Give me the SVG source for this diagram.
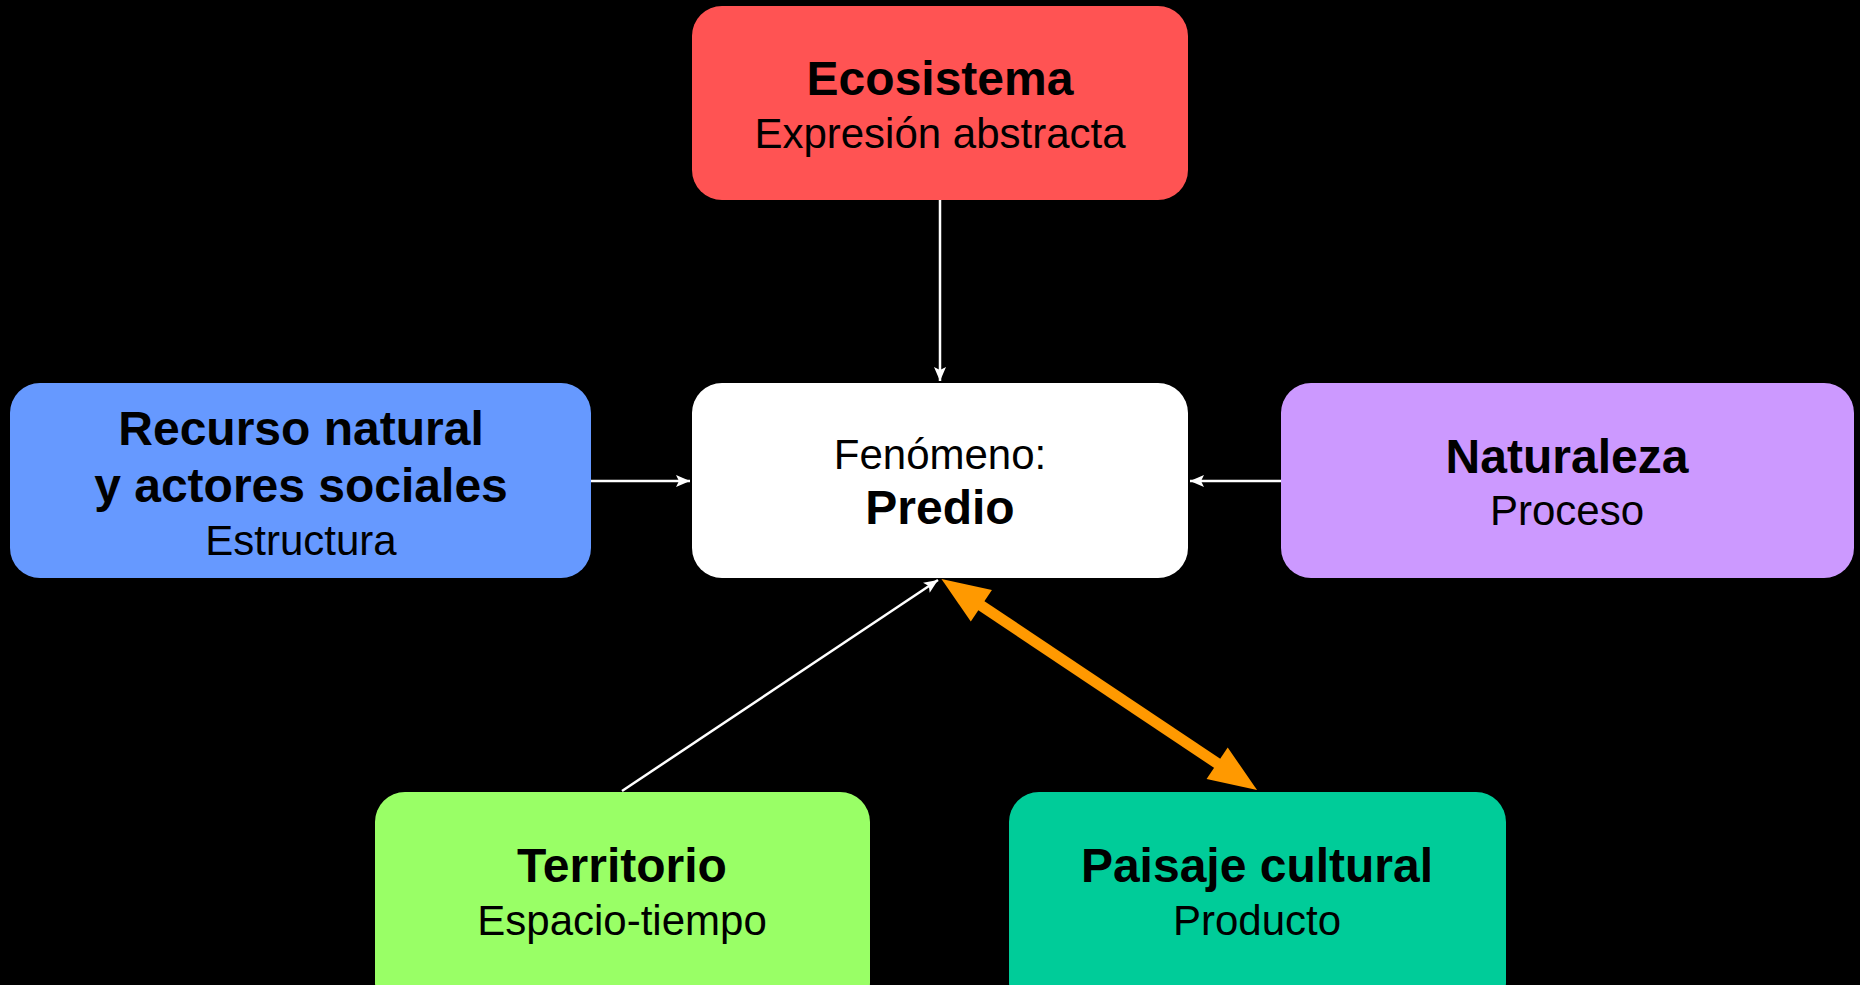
<svg xmlns="http://www.w3.org/2000/svg" width="1860" height="985" viewBox="0 0 1860 985">
<style>
.box{stroke:none}
.t{font-family:"Liberation Sans",Arial,sans-serif;fill:#000;text-anchor:middle}
.b{font-weight:bold;font-size:48px}
.n{font-size:42px}
.w{stroke:#fff;stroke-width:2.5;fill:none}
.o{stroke:#FF9900;stroke-width:11;fill:none}
</style>
<defs>
<marker id="wa" markerUnits="userSpaceOnUse" markerWidth="16" markerHeight="14" viewBox="0 -7 16 14" refX="14" refY="0" orient="auto" overflow="visible">
<path d="M0,-6 L14,0 L0,6 L3,0 z" fill="#fff"/>
</marker>
<marker id="oa" markerUnits="userSpaceOnUse" markerWidth="50" markerHeight="40" viewBox="0 -20 50 40" refX="18" refY="0" orient="auto-start-reverse" overflow="visible">
<path d="M0,-19 L48,0 L0,19 z" fill="#FF9900"/>
</marker>
</defs>
<rect width="1860" height="985" fill="#000"/>
<g id="connectors">
<line class="w" x1="940" y1="200" x2="940" y2="381" marker-end="url(#wa)"/>
<line class="w" x1="591" y1="481" x2="690" y2="481" marker-end="url(#wa)"/>
<line class="w" x1="1281" y1="481" x2="1190" y2="481" marker-end="url(#wa)"/>
<line class="w" x1="622" y1="791" x2="938" y2="580" marker-end="url(#wa)"/>
<line class="o" x1="966.4" y1="595.7" x2="1232.1" y2="773.3" marker-start="url(#oa)" marker-end="url(#oa)"/>
</g>
<g id="ecosistema">
<rect class="box" x="692" y="6" width="496" height="194" rx="30" fill="#FF5353"/>
<text class="t b" x="940" y="95">Ecosistema</text>
<text class="t n" x="940" y="148">Expresión abstracta</text>
</g>
<g id="predio">
<rect class="box" x="692" y="383" width="496" height="195" rx="30" fill="#fff"/>
<text class="t n" x="940" y="469">Fenómeno:</text>
<text class="t b" x="940" y="524">Predio</text>
</g>
<g id="recurso">
<rect class="box" x="10" y="383" width="581" height="195" rx="30" fill="#6699FF"/>
<text class="t b" x="301" y="445">Recurso natural</text>
<text class="t b" x="301" y="502">y actores sociales</text>
<text class="t n" x="301" y="555">Estructura</text>
</g>
<g id="naturaleza">
<rect class="box" x="1281" y="383" width="573" height="195" rx="30" fill="#CC99FF"/>
<text class="t b" x="1567" y="473">Naturaleza</text>
<text class="t n" x="1567" y="525">Proceso</text>
</g>
<g id="territorio">
<rect class="box" x="375" y="792" width="495" height="220" rx="30" fill="#99FF66"/>
<text class="t b" x="622" y="882">Territorio</text>
<text class="t n" x="622" y="935">Espacio-tiempo</text>
</g>
<g id="paisaje">
<rect class="box" x="1009" y="792" width="497" height="220" rx="30" fill="#00CC99"/>
<text class="t b" x="1257" y="882">Paisaje cultural</text>
<text class="t n" x="1257" y="935">Producto</text>
</g>
</svg>
